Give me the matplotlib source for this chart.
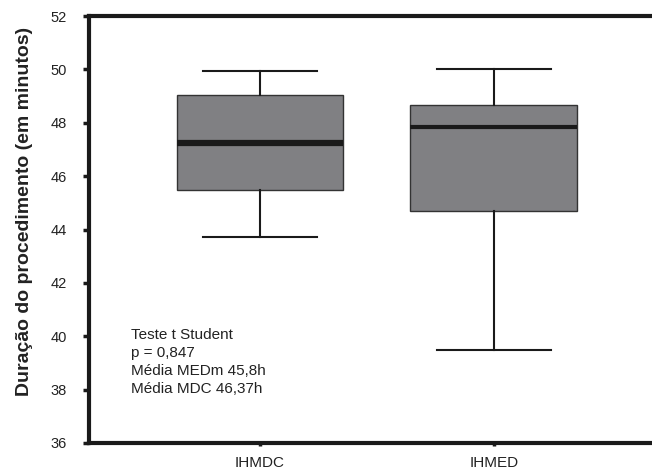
import matplotlib
matplotlib.use('Agg')
import matplotlib.pyplot as plt

plt.rcParams['font.family'] = ['Liberation Sans', 'DejaVu Sans']

groups = ['IHMDC', 'IHMED']
whislo = [43.72, 39.48]
q1 = [45.48, 44.71]
med = [47.25, 47.83]
q3 = [49.05, 48.67]
whishi = [49.95, 50.0]
yticks = [36, 38, 40, 42, 44, 46, 48, 50, 52]
note = 'Teste t Student\np = 0,847\nMédia MEDm 45,8h\nMédia MDC 46,37h'

stats = []
for i in range(len(groups)):
    stats.append(dict(label=groups[i], whislo=whislo[i], q1=q1[i], med=med[i],
                      q3=q3[i], whishi=whishi[i], fliers=[]))

fig = plt.figure(figsize=(6.52, 4.71), dpi=100)
ax = fig.add_axes([89/652, 28/471, 1 - 89/652, 427/471])

res = ax.bxp(stats, positions=[1, 2], widths=0.713, capwidths=0.49,
             patch_artist=True, showfliers=False,
             boxprops=dict(facecolor='#808083', edgecolor='#333333', linewidth=1.0),
             whiskerprops=dict(color='#1a1a1a', linewidth=1.5),
             capprops=dict(color='#1a1a1a', linewidth=1.5),
             medianprops=dict(color='#1a1a1a', linewidth=4.5))
res['medians'][1].set_linewidth(3.0)

ax.set_xlim(0.268, 2.677)
ax.set_ylim(36, 52)
ax.set_yticks(yticks)
ax.set_xticks([1, 2])
ax.set_xticklabels(groups)

for s in ['left', 'top', 'bottom']:
    ax.spines[s].set_linewidth(3.0)
    ax.spines[s].set_color('#1a1a1a')
ax.spines['right'].set_visible(False)

ax.tick_params(axis='y', direction='out', length=4, width=2.5, color='#1a1a1a',
               labelsize=10.5, pad=12, labelcolor='#222222')
ax.tick_params(axis='x', direction='out', length=2.5, width=2.5, color='#1a1a1a',
               labelsize=11, pad=7, labelcolor='#222222')

ax.set_ylabel('Duração do procedimento (em minutos)', fontsize=14, fontweight='bold',
              color='#222222')
ax.yaxis.set_label_coords(-0.099, 0.543)

ax.text(0.448, 40.31, note, fontsize=11, va='top', ha='left', linespacing=1.36,
        color='#222222')

fig.savefig('out.png', dpi=100)
